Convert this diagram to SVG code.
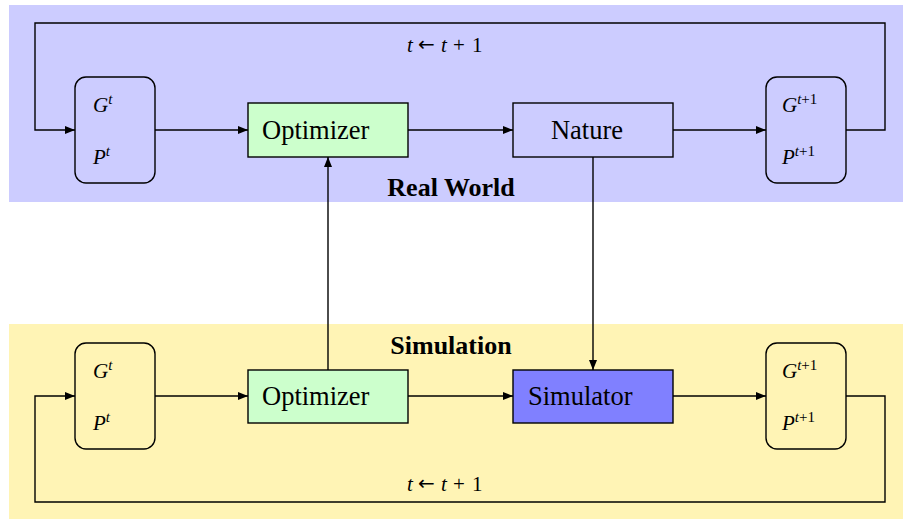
<svg xmlns="http://www.w3.org/2000/svg" width="903" height="520" viewBox="0 0 903 520">
<defs>
<marker id="ar" viewBox="0 0 10 8" refX="10" refY="4" markerWidth="10" markerHeight="8" markerUnits="userSpaceOnUse" orient="auto">
<path d="M0,0 L10,4 L0,8 Z" fill="#000"/>
</marker>
<style>
.band-top{fill:#ccccff}
.band-bot{fill:#fff4b5}
.state{stroke:#000;stroke-width:1.4}
.box{stroke:#000;stroke-width:1.4}
.lbl{font-family:"Liberation Serif","DejaVu Serif","Times New Roman",serif;font-size:26.5px;fill:#000}
.math{font-family:"Liberation Serif","DejaVu Serif","Times New Roman",serif;font-style:italic;font-size:21px;fill:#000}
.rm{font-style:normal}
.sup{font-size:15px}
.arr{font-family:"DejaVu Sans",sans-serif;font-style:normal;font-size:20px}
.title{font-family:"Liberation Serif","DejaVu Serif","Times New Roman",serif;font-weight:bold;font-size:26px;fill:#000}
.conn{fill:none;stroke:#000;stroke-width:1.4}
</style>
</defs>
<rect class="band-top" x="9" y="5" width="894" height="197"/>
<rect class="band-bot" x="9" y="324" width="894" height="195"/>
<text class="title" x="451" y="196" text-anchor="middle">Real World</text>
<text class="title" x="451" y="354" text-anchor="middle">Simulation</text>

<g id="connectors">
<path class="conn" d="M846,130 H885 V23 H35 V130 H75" marker-end="url(#ar)"/>
<path class="conn" d="M155,130 H248" marker-end="url(#ar)"/>
<path class="conn" d="M408,130 H513" marker-end="url(#ar)"/>
<path class="conn" d="M673,130 H766" marker-end="url(#ar)"/>
<path class="conn" d="M846,396 H885 V502 H35 V396 H75" marker-end="url(#ar)"/>
<path class="conn" d="M155,396 H248" marker-end="url(#ar)"/>
<path class="conn" d="M408,396 H513" marker-end="url(#ar)"/>
<path class="conn" d="M673,396 H766" marker-end="url(#ar)"/>
<path class="conn" d="M328,370 V157" marker-end="url(#ar)"/>
<path class="conn" d="M593,157 V370" marker-end="url(#ar)"/>
<text class="math" x="407" y="52">t<tspan class="arr" x="418" y="51">←</tspan><tspan x="441" y="52">t</tspan><tspan class="rm" x="453">+</tspan><tspan class="rm" x="472">1</tspan></text>
<text class="math" x="407" y="491">t<tspan class="arr" x="418" y="490">←</tspan><tspan x="441" y="491">t</tspan><tspan class="rm" x="453">+</tspan><tspan class="rm" x="472">1</tspan></text>
</g>

<g id="state-top-left">
<rect class="state" x="75" y="77" width="80" height="106" rx="11" fill="#ccccff"/>
<text class="math" x="93" y="112">G<tspan class="sup" dy="-8">t</tspan></text>
<text class="math" x="93" y="164">P<tspan class="sup" dy="-8">t</tspan></text>
</g>
<g id="optimizer-top">
<rect class="box" x="248" y="103" width="160" height="54" fill="#ccffcc"/>
<text class="lbl" x="262" y="139">Optimizer</text>
</g>
<g id="nature">
<rect class="box" x="513" y="103" width="160" height="54" fill="#ccccff"/>
<text class="lbl" x="587" y="139" text-anchor="middle">Nature</text>
</g>
<g id="state-top-right">
<rect class="state" x="766" y="77" width="80" height="106" rx="11" fill="#ccccff"/>
<text class="math" x="782" y="112">G<tspan class="sup" dy="-8">t</tspan><tspan class="sup rm">+1</tspan></text>
<text class="math" x="782" y="164">P<tspan class="sup" dy="-8">t</tspan><tspan class="sup rm">+1</tspan></text>
</g>

<g id="state-bot-left">
<rect class="state" x="75" y="343" width="80" height="106" rx="11" fill="#fff4b5"/>
<text class="math" x="93" y="378">G<tspan class="sup" dy="-8">t</tspan></text>
<text class="math" x="93" y="430">P<tspan class="sup" dy="-8">t</tspan></text>
</g>
<g id="optimizer-bot">
<rect class="box" x="248" y="370" width="160" height="53" fill="#ccffcc"/>
<text class="lbl" x="262" y="405">Optimizer</text>
</g>
<g id="simulator">
<rect class="box" x="513" y="370" width="160" height="53" fill="#8080ff"/>
<text class="lbl" x="528" y="405">Simulator</text>
</g>
<g id="state-bot-right">
<rect class="state" x="766" y="343" width="80" height="106" rx="11" fill="#fff4b5"/>
<text class="math" x="782" y="378">G<tspan class="sup" dy="-8">t</tspan><tspan class="sup rm">+1</tspan></text>
<text class="math" x="782" y="430">P<tspan class="sup" dy="-8">t</tspan><tspan class="sup rm">+1</tspan></text>
</g>
</svg>
